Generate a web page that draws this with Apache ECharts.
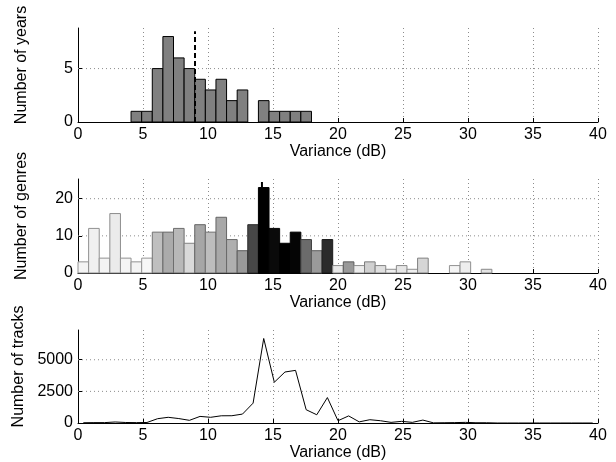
<!DOCTYPE html>
<html><head><meta charset="utf-8">
<script src="https://cdn.jsdelivr.net/npm/echarts@6/dist/echarts.min.js"></script>
<style>html,body{margin:0;padding:0;background:#fff}#c{width:616px;height:462px}</style>
</head><body><div id="c"></div>
<script>
// ---- data ----
const BIN_COUNT = 49;
const X_MIN = 0, X_MAX = 40;
const xTickStep = 5;
const xTitle = 'Variance (dB)';
const yearTitle = 'Number of years';
const genreTitle = 'Number of genres';
const trackTitle = 'Number of tracks';

const yearCounts = [0,0,0,0,0,1,1,5,8,6,5,4,3,4,2,3,0,2,1,1,1,1,0,0,0,0,0,0,0,0,0,0,0,0,0,0,0,0,0,0,0,0,0,0,0,0,0,0,0];
const yearMarker = 9;
const yearMarkerTop = 8.5;
const yearTicks = [0, 5];
const yearMax = 8.8;

const genreCounts = [3,12,4,16,4,3,4,11,11,12,8,13,11,15,9,6,13,23,12,8,11,9,6,9,2,3,2,3,2,1,2,1,4,0,0,2,3,0,1,0,0,0,0,0,0,0,0,0,0];
const genreShades = ['#f4f4f4','#f0f0f0','#f4f4f4','#ebebeb','#f4f4f4','#f4f4f4','#f7f7f7','#bfbfbf','#ababab','#b8b8b8','#d9d9d9','#a6a6a6','#bdbdbd','#a8a8a8','#afafaf','#999999','#474747','#000000','#0a0a0a','#000000','#050505','#6b6b6b','#9a9a9a','#2b2b2b','#e8e8e8','#999999','#ececec','#d0d0d0','#e0e0e0','#eeeeee','#e6e6e6','#eeeeee','#d6d6d6','#ffffff','#ffffff','#f5f5f5','#eeeeee','#ffffff','#e3e3e3','#ffffff','#ffffff','#ffffff','#ffffff','#ffffff','#ffffff','#ffffff','#ffffff','#ffffff','#ffffff'];
const genreMarker = 14.15;
const genreMarkerRange = [23, 24.5];
const genreTicks = [0, 10, 20];
const genreMax = 25.3;

const trackCounts = [20,30,30,80,40,30,40,340,450,350,210,520,450,570,575,705,1570,6680,3220,4030,4160,1050,650,2010,180,560,90,260,180,50,130,50,230,10,20,30,50,20,20,0,0,0,0,0,0,0,0,0,0];
const trackTicks = [0, 2500, 5000];
const trackMax = 7350;

// ---- build ----
const binWidth = (X_MAX - X_MIN) / BIN_COUNT;
function histData(counts){
  const out = [];
  counts.forEach((c,k)=>{ if (c>0) out.push([X_MIN+k*binWidth, X_MIN+(k+1)*binWidth, c, k]); });
  return out;
}
function darken(hex, f){
  const n = parseInt(hex.slice(1),16);
  const r = Math.round(((n>>16)&255)*f), g = Math.round(((n>>8)&255)*f), b = Math.round((n&255)*f);
  return 'rgb('+r+','+g+','+b+')';
}
function histRender(shades, fill0, edge0){
  return function(params, api){
    const x0 = api.value(0), x1 = api.value(1), v = api.value(2), k = api.value(3);
    const p0 = api.coord([x0, 0]), p1 = api.coord([x1, v]);
    const fill = shades ? shades[k] : fill0;
    const edge = edge0 || darken(fill, 0.6);
    return {type:'rect', shape:{x:p0[0], y:p1[1], width:p1[0]-p0[0], height:p0[1]-p1[1]},
      style:{fill:fill, stroke:edge, lineWidth:1}};
  };
}
function gridLineRender(params, api){
  const v = api.value(0);
  const p0 = api.coord([X_MIN, v]), p1 = api.coord([X_MAX, v]);
  return {type:'line', shape:{x1:p0[0], y1:p0[1], x2:p1[0], y2:p1[1]},
    style:{stroke:'#8c8c8c', lineWidth:1, lineDash:[1,3]}};
}
function vSegRender(dash, width){
  return function(params, api){
    const p0 = api.coord([api.value(0), api.value(1)]), p1 = api.coord([api.value(0), api.value(2)]);
    return {type:'line', shape:{x1:p0[0], y1:p0[1], x2:p1[0], y2:p1[1]},
      style:{stroke:'#000', lineWidth:width, lineDash:dash}};
  };
}
const FONT = 'Liberation Sans, Arial, Helvetica, sans-serif';
const txt = {color:'#000', fontSize:16, fontFamily:FONT};
const plain = v => String(v);
function xAx(i){
  return {gridIndex:i, type:'value', min:X_MIN, max:X_MAX, interval:xTickStep,
    axisLine:{onZero:false, lineStyle:{color:'#000', width:1}},
    axisTick:{inside:true, length:4, lineStyle:{color:'#000'}},
    axisLabel:Object.assign({margin:5, formatter:plain}, txt),
    splitLine:{show:true, lineStyle:{color:'#8c8c8c', width:1, type:[1,3]}},
    name:xTitle, nameLocation:'middle', nameGap:17, nameTextStyle:txt};
}
function yAx(i, max, ticks, title){
  return {gridIndex:i, type:'value', min:0, max:max, interval:ticks[1]-ticks[0],
    axisLine:{show:true, onZero:false, lineStyle:{color:'#000', width:1}},
    axisTick:{inside:true, length:4, lineStyle:{color:'#000'}, customValues:ticks},
    axisLabel:Object.assign({margin:5, customValues:ticks, formatter:plain}, txt),
    splitLine:{show:false},
    name:title, nameLocation:'middle', nameGap:48,
    nameTextStyle:Object.assign({padding:[0,0,0,20]}, txt)};
}
const grids = [
  {left:78, width:520, top:28, height:94},
  {left:78, width:520, top:179, height:94},
  {left:78, width:520, top:330, height:93}
];
const option = {
  animation:false,
  backgroundColor:'#fff',
  grid:grids,
  xAxis:[xAx(0), xAx(1), xAx(2)],
  yAxis:[yAx(0, yearMax, yearTicks, yearTitle), yAx(1, genreMax, genreTicks, genreTitle), yAx(2, trackMax, trackTicks, trackTitle)],
  series:[
    {type:'custom', xAxisIndex:0, yAxisIndex:0, z:1, renderItem:gridLineRender, data:yearTicks.filter(v=>v>0).map(v=>[v]), silent:true},
    {type:'custom', xAxisIndex:1, yAxisIndex:1, z:1, renderItem:gridLineRender, data:genreTicks.filter(v=>v>0).map(v=>[v]), silent:true},
    {type:'custom', xAxisIndex:2, yAxisIndex:2, z:1, renderItem:gridLineRender, data:trackTicks.filter(v=>v>0).map(v=>[v]), silent:true},
    {type:'custom', xAxisIndex:0, yAxisIndex:0, z:2, renderItem:histRender(null, '#808080', '#000'), encode:{x:[0,1], y:2}, data:histData(yearCounts)},
    {type:'custom', xAxisIndex:0, yAxisIndex:0, z:3, renderItem:vSegRender([5,3], 2), encode:{x:0, y:[1,2]}, data:[[yearMarker, 0, yearMarkerTop]]},
    {type:'custom', xAxisIndex:1, yAxisIndex:1, z:2, renderItem:histRender(genreShades, null, null), encode:{x:[0,1], y:2}, data:histData(genreCounts)},
    {type:'custom', xAxisIndex:1, yAxisIndex:1, z:3, renderItem:vSegRender(null, 2), encode:{x:0, y:[1,2]}, data:[[genreMarker, genreMarkerRange[0], genreMarkerRange[1]]]},
    {type:'line', xAxisIndex:2, yAxisIndex:2, z:2, showSymbol:false, symbol:'none',
      lineStyle:{color:'#000', width:1}, itemStyle:{color:'#000'},
      data:trackCounts.map((c,k)=>[X_MIN+(k+0.5)*binWidth, c])}
  ]
};
const chart = echarts.init(document.getElementById('c'), null, {renderer:'canvas'});
chart.setOption(option);
</script></body></html>
